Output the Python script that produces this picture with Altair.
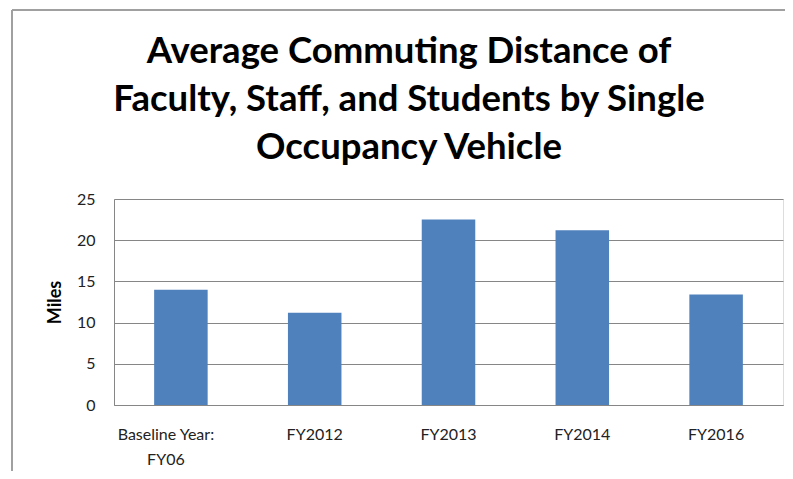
import altair as alt
import pandas as pd

categories = ["Baseline Year: FY06", "FY2012", "FY2013", "FY2014", "FY2016"]
miles = [14.0, 11.2, 22.5, 21.2, 13.4]
title_lines = ["Average Commuting Distance of",
               "Faculty, Staff, and Students by Single",
               "Occupancy Vehicle"]

df = pd.DataFrame({"cat": categories, "miles": miles})

FONT = "Lato"

bars = alt.Chart(df).mark_bar(color="#4F81BD").encode(
    x=alt.X("cat:N", sort=categories, title=None,
            scale=alt.Scale(paddingInner=0.6, paddingOuter=0.3),
            axis=alt.Axis(labelAngle=0, ticks=False, tickSize=0, labelPadding=21,
                          domainColor="#868686", labelFontSize=16, labelColor="#222",
                          labelFont=FONT, labelLineHeight=25, labelBaseline="top",
                          labelOffset={"condition": {"test": "datum.value == 'Baseline Year: FY06'",
                                                     "value": -15}, "value": 0},
                          labelExpr="datum.label == 'Baseline Year: FY06' ? ['Baseline Year:', 'FY06'] : datum.label")),
    y=alt.Y("miles:Q", title="Miles",
            scale=alt.Scale(domain=[0, 25]),
            axis=alt.Axis(values=[0, 5, 10, 15, 20, 25], ticks=False, tickSize=0,
                          labelPadding=19, domainColor="#868686", gridColor="#868686",
                          gridWidth=1, labelFontSize=16, labelColor="#222", labelFont=FONT,
                          titleFont=FONT, titleFontSize=18, titleFontWeight="bold",
                          titleColor="#000", titlePadding=12)),
)

border_left = alt.Chart(df).mark_rule(color="#a0a0a0", strokeWidth=1.5).encode(
    x=alt.value(-102), y=alt.value(-189), y2=alt.value(300))
border_top = alt.Chart(df).mark_rule(color="#a0a0a0", strokeWidth=1.5).encode(
    x=alt.value(-102), x2=alt.value(700), y=alt.value(-189))

chart = alt.layer(border_left, border_top, bars).properties(
    width=669, height=206,
    autosize=alt.AutoSizeParams(type="none"),
    padding={"left": 106, "top": 191, "right": 2, "bottom": 66},
    title=alt.TitleParams(text=title_lines, font=FONT, fontSize=36.5, fontWeight="bold",
                          color="#000", lineHeight=48, anchor="middle", orient="none",
                          baseline="alphabetic", frame="group", dx=295, dy=-136),
).configure_view(stroke=None).configure(background="white")

chart.save("out.html", embed_options={"renderer": "svg", "actions": False})
